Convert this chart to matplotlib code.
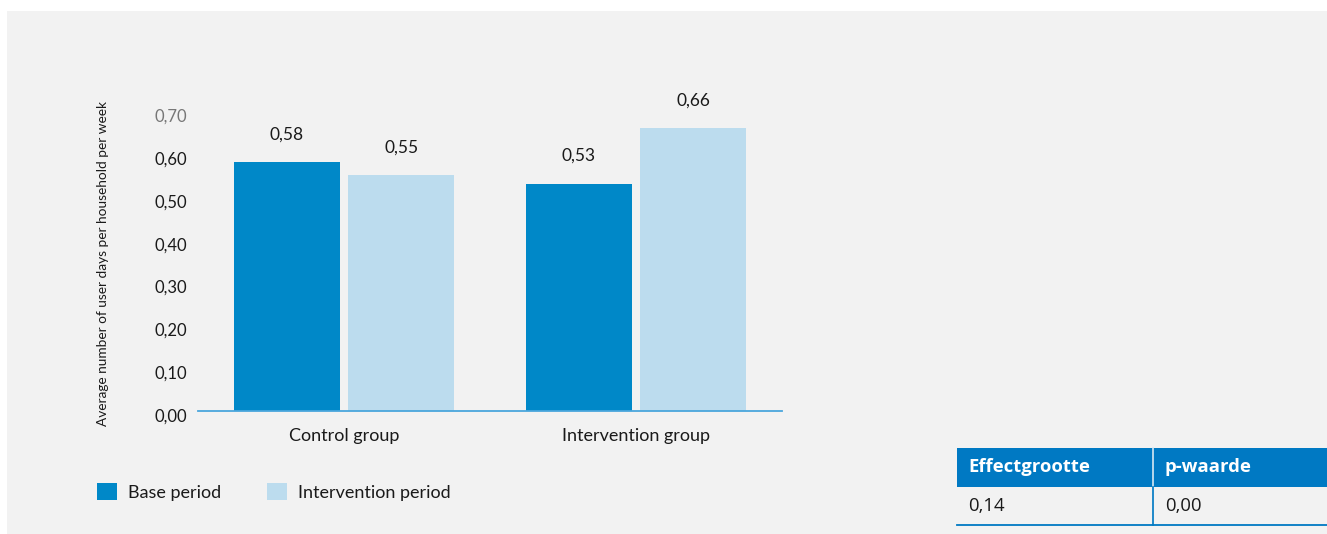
import matplotlib
matplotlib.use("Agg")
import matplotlib.pyplot as plt
from matplotlib.patches import Rectangle, Patch
from matplotlib.lines import Line2D
from matplotlib.transforms import ScaledTranslation
import numpy as np

# ---- data ----
categories = ["Control group", "Intervention group"]
series_names = ["Base period", "Intervention period"]
base_values = [0.58, 0.53]
intervention_values = [0.55, 0.66]
y_ticks = [0.0, 0.1, 0.2, 0.3, 0.4, 0.5, 0.6, 0.7]
y_label = "Average number of user days per household per week"
table_headers = ["Effectgrootte", "p-waarde"]
table_values = ["0,14", "0,00"]

# ---- style ----
C_BASE = "#0088c8"
C_INT = "#bcdcee"
C_AXIS = "#4aa6dc"
C_HEAD = "#0079c3"
BG = "#f2f2f2"
TXT = "#1a1a1a"
FONT = ["Lato", "DejaVu Sans"]
plt.rcParams["font.family"] = FONT

W, H = 1327, 534
fig = plt.figure(figsize=(W / 100, H / 100), dpi=100)
fig.patch.set_facecolor("white")

def fx(px):
    return px / W

def fy(py):
    return (H - py) / H

# gray background panel
fig.patches.append(Rectangle((fx(7), 0), 1 - fx(7), fy(11), transform=fig.transFigure,
                             facecolor=BG, edgecolor="none", zorder=-10))

ax = fig.add_axes([fx(198), fy(411), fx(782) - fx(198), (411 - 111) / H])
ax.set_facecolor("none")
ax.set_zorder(5)

x = np.arange(len(categories))
w = 0.362
off = 0.196
b1 = ax.bar(x - off, base_values, w, color=C_BASE, label=series_names[0], zorder=2)
b2 = ax.bar(x + off, intervention_values, w, color=C_INT, label=series_names[1], zorder=2)

for bars, vals in ((b1, base_values), (b2, intervention_values)):
    for r, v in zip(bars, vals):
        ax.annotate(f"{v:.2f}".replace(".", ","), (r.get_x() + r.get_width() / 2, r.get_height()),
                    xytext=(0, 20), textcoords="offset points", ha="center", va="center",
                    fontsize=12.5, color=TXT, annotation_clip=False)

ax.set_xlim(-0.5, 1.5)
ax.set_ylim(0, 0.70)
ax.set_yticks(y_ticks)
ax.set_yticklabels([f"{t:.2f}".replace(".", ",") for t in y_ticks])
ax.set_xticks(x)
ax.set_xticklabels(categories)
ax.tick_params(axis="y", length=0, pad=8, labelsize=12, labelcolor=TXT)
ax.tick_params(axis="x", length=0, pad=12, labelsize=13, labelcolor=TXT)
for lab in ax.get_yticklabels():
    lab.set_transform(lab.get_transform() + ScaledTranslation(0, -3 / 72, fig.dpi_scale_trans))
ax.get_yticklabels()[-1].set_color("#777777")

for s in ("left", "right", "top"):
    ax.spines[s].set_visible(False)
ax.spines["bottom"].set_color(C_AXIS)
ax.spines["bottom"].set_linewidth(1.3)

fig.text(fx(103), fy(263), y_label, rotation=90, ha="center", va="center",
         fontsize=9.8, color=TXT)

# legend
handles = [Patch(facecolor=C_BASE, edgecolor="none"), Patch(facecolor=C_INT, edgecolor="none")]
fig.legend(handles, series_names, loc="center left", bbox_to_anchor=(fx(97), fy(492)),
           ncol=2, frameon=False, fontsize=13, handlelength=1.1, handleheight=1.1,
           handletextpad=0.6, columnspacing=2.55, borderpad=0, borderaxespad=0,
           labelcolor=TXT)

# table
tx0, tdiv, tx1 = 957, 1153, 1327
hy0, hy1, ry1 = 448, 487, 525
fig.patches.append(Rectangle((fx(tx0), fy(hy1)), fx(tx1) - fx(tx0), fy(hy0) - fy(hy1),
                             transform=fig.transFigure, facecolor=C_HEAD, edgecolor="none", zorder=1))
fig.add_artist(Line2D([fx(tdiv), fx(tdiv)], [fy(ry1), fy(hy0)], transform=fig.transFigure,
                      color="#d8e8f3", lw=1.2, zorder=2))
fig.add_artist(Line2D([fx(tdiv), fx(tdiv)], [fy(ry1), fy(hy1)], transform=fig.transFigure,
                      color=C_HEAD, lw=1.2, zorder=3))
fig.add_artist(Line2D([fx(tx0), fx(tx1)], [fy(ry1), fy(ry1)], transform=fig.transFigure,
                      color=C_HEAD, lw=1.3, zorder=2))
col_x = [968, 1165]
for cx, h, v in zip(col_x, table_headers, table_values):
    fig.text(fx(cx), fy((hy0 + hy1) / 2), h, ha="left", va="center", fontsize=13.3,
             fontweight="bold", color="white", family=["Open Sans", "DejaVu Sans"])
    fig.text(fx(cx), fy((hy1 + ry1) / 2), v, ha="left", va="center", fontsize=13.3,
             color=TXT, family=["Open Sans", "DejaVu Sans"])

fig.savefig("out.png", dpi=100, facecolor=fig.get_facecolor())
